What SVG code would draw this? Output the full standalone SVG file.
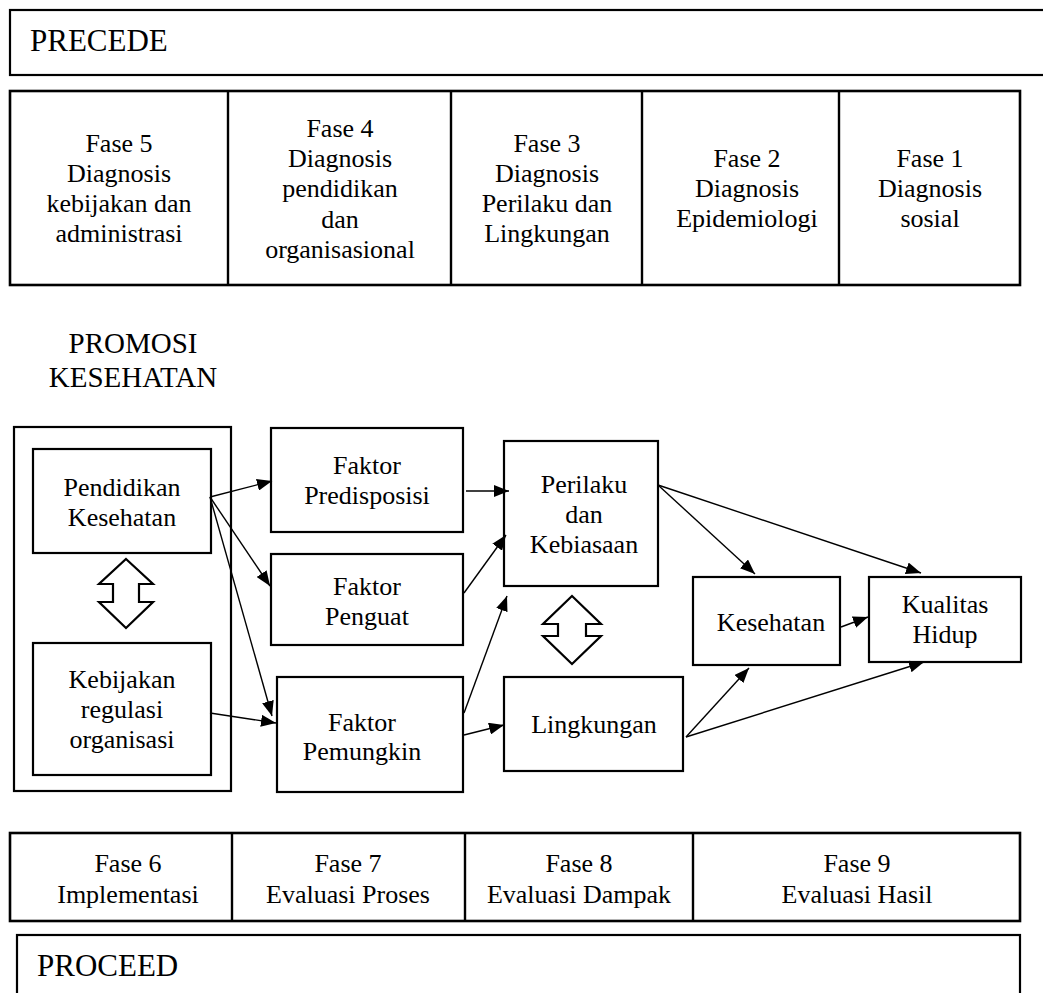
<svg xmlns="http://www.w3.org/2000/svg" width="1043" height="993" viewBox="0 0 1043 993">
<defs>
<style>
text{font-family:"Liberation Serif","Times New Roman",serif;font-size:26px;fill:#000;text-anchor:middle}
.big{font-size:31px;text-anchor:start}
.promo{font-size:29px}
.box{fill:#fff;stroke:#000;stroke-width:2.2}
.tbl{fill:#fff;stroke:#000;stroke-width:2.6}
.div{stroke:#000;stroke-width:2.4}
.dbl{fill:#fff;stroke:#000;stroke-width:2.2;stroke-linejoin:miter}
.conn line{stroke:#000;stroke-width:1.4;fill:none}
</style>
<marker id="ah" viewBox="0 0 15 12" refX="15" refY="6" markerWidth="15" markerHeight="12" markerUnits="userSpaceOnUse" orient="auto">
<path d="M0,0 L15,6 L0,12 z" fill="#000"/>
</marker>
</defs>
<rect width="1043" height="993" fill="#fff"/>

<g id="precede">
<rect class="box" x="10" y="10" width="1045" height="65"/>
<text class="big" x="30" y="51">PRECEDE</text>
</g>

<g id="fase-top">
<rect class="tbl" x="10" y="91" width="1010" height="194"/>
<line class="div" x1="228" y1="91" x2="228" y2="285"/>
<line class="div" x1="451" y1="91" x2="451" y2="285"/>
<line class="div" x1="642" y1="91" x2="642" y2="285"/>
<line class="div" x1="839" y1="91" x2="839" y2="285"/>
<g id="fase5"><text x="119" y="152">Fase 5</text><text x="119" y="182">Diagnosis</text><text x="119" y="212">kebijakan dan</text><text x="119" y="242">administrasi</text></g>
<g id="fase4"><text x="340" y="137">Fase 4</text><text x="340" y="167">Diagnosis</text><text x="340" y="197">pendidikan</text><text x="340" y="228">dan</text><text x="340" y="258">organisasional</text></g>
<g id="fase3"><text x="547" y="152">Fase 3</text><text x="547" y="182">Diagnosis</text><text x="547" y="212">Perilaku dan</text><text x="547" y="242">Lingkungan</text></g>
<g id="fase2"><text x="747" y="167">Fase 2</text><text x="747" y="197">Diagnosis</text><text x="747" y="227">Epidemiologi</text></g>
<g id="fase1"><text x="930" y="167">Fase 1</text><text x="930" y="197">Diagnosis</text><text x="930" y="227">sosial</text></g>
</g>

<g id="promosi">
<text class="promo" x="133" y="353">PROMOSI</text>
<text class="promo" x="133" y="387">KESEHATAN</text>
</g>

<g id="outer-left"><rect class="box" x="14" y="427" width="217" height="364"/></g>

<g id="pendidikan">
<rect class="box" x="33" y="449" width="178" height="104"/>
<text x="122" y="496">Pendidikan</text><text x="122" y="526">Kesehatan</text>
</g>

<g id="dbl-arrow-1">
<polygon class="dbl" points="126,559 153,584 139,584 139,602 153,602 126,628 99,602 113,602 113,584 99,584"/>
</g>

<g id="kebijakan">
<rect class="box" x="33" y="643" width="178" height="132"/>
<text x="122" y="688">Kebijakan</text><text x="122" y="718">regulasi</text><text x="122" y="748">organisasi</text>
</g>

<g id="predisposisi">
<rect class="box" x="271" y="428" width="192" height="104"/>
<text x="367" y="474">Faktor</text><text x="367" y="504">Predisposisi</text>
</g>

<g id="penguat">
<rect class="box" x="271" y="554" width="192" height="91"/>
<text x="367" y="595">Faktor</text><text x="367" y="625">Penguat</text>
</g>

<g id="pemungkin">
<rect class="box" x="277" y="677" width="186" height="115"/>
<text x="362" y="731">Faktor</text><text x="362" y="760">Pemungkin</text>
</g>

<g id="perilaku">
<rect class="box" x="504" y="441" width="154" height="145"/>
<text x="584" y="493">Perilaku</text><text x="584" y="523">dan</text><text x="584" y="553">Kebiasaan</text>
</g>

<g id="dbl-arrow-2">
<polygon class="dbl" points="572,596 601,624 586,624 586,636 601,636 572,664 543,636 558,636 558,624 543,624"/>
</g>

<g id="lingkungan">
<rect class="box" x="504" y="677" width="179" height="94"/>
<text x="594" y="733">Lingkungan</text>
</g>

<g id="kesehatan">
<rect class="box" x="693" y="577" width="147" height="88"/>
<text x="771" y="631">Kesehatan</text>
</g>

<g id="kualitas">
<rect class="box" x="869" y="577" width="152" height="85"/>
<text x="945" y="613">Kualitas</text><text x="945" y="643">Hidup</text>
</g>

<g id="connectors" class="conn">
<line x1="210" y1="497" x2="272" y2="481" marker-end="url(#ah)"/>
<line x1="210" y1="497" x2="270" y2="586" marker-end="url(#ah)"/>
<line x1="210" y1="497" x2="272" y2="716" marker-end="url(#ah)"/>
<line x1="210" y1="713" x2="276" y2="723" marker-end="url(#ah)"/>
<line x1="466" y1="491" x2="509" y2="491" marker-end="url(#ah)"/>
<line x1="464" y1="593" x2="506" y2="535" marker-end="url(#ah)"/>
<line x1="464" y1="713" x2="507" y2="596" marker-end="url(#ah)"/>
<line x1="464" y1="735" x2="504" y2="725" marker-end="url(#ah)"/>
<line x1="658" y1="485" x2="755" y2="574" marker-end="url(#ah)"/>
<line x1="658" y1="485" x2="921" y2="573" marker-end="url(#ah)"/>
<line x1="841" y1="627" x2="868" y2="617" marker-end="url(#ah)"/>
<line x1="686" y1="737" x2="749" y2="668" marker-end="url(#ah)"/>
<line x1="686" y1="737" x2="924" y2="662" marker-end="url(#ah)"/>
</g>

<g id="fase-bottom">
<rect class="tbl" x="10" y="833" width="1010" height="88"/>
<line class="div" x1="232" y1="833" x2="232" y2="921"/>
<line class="div" x1="465" y1="833" x2="465" y2="921"/>
<line class="div" x1="693" y1="833" x2="693" y2="921"/>
<g id="fase6"><text x="128" y="872">Fase 6</text><text x="128" y="903">Implementasi</text></g>
<g id="fase7"><text x="348" y="872">Fase 7</text><text x="348" y="903">Evaluasi Proses</text></g>
<g id="fase8"><text x="579" y="872">Fase 8</text><text x="579" y="903">Evaluasi Dampak</text></g>
<g id="fase9"><text x="857" y="872">Fase 9</text><text x="857" y="903">Evaluasi Hasil</text></g>
</g>

<g id="proceed">
<rect class="box" x="17" y="935" width="1003" height="80"/>
<text class="big" x="37" y="976">PROCEED</text>
</g>
</svg>
